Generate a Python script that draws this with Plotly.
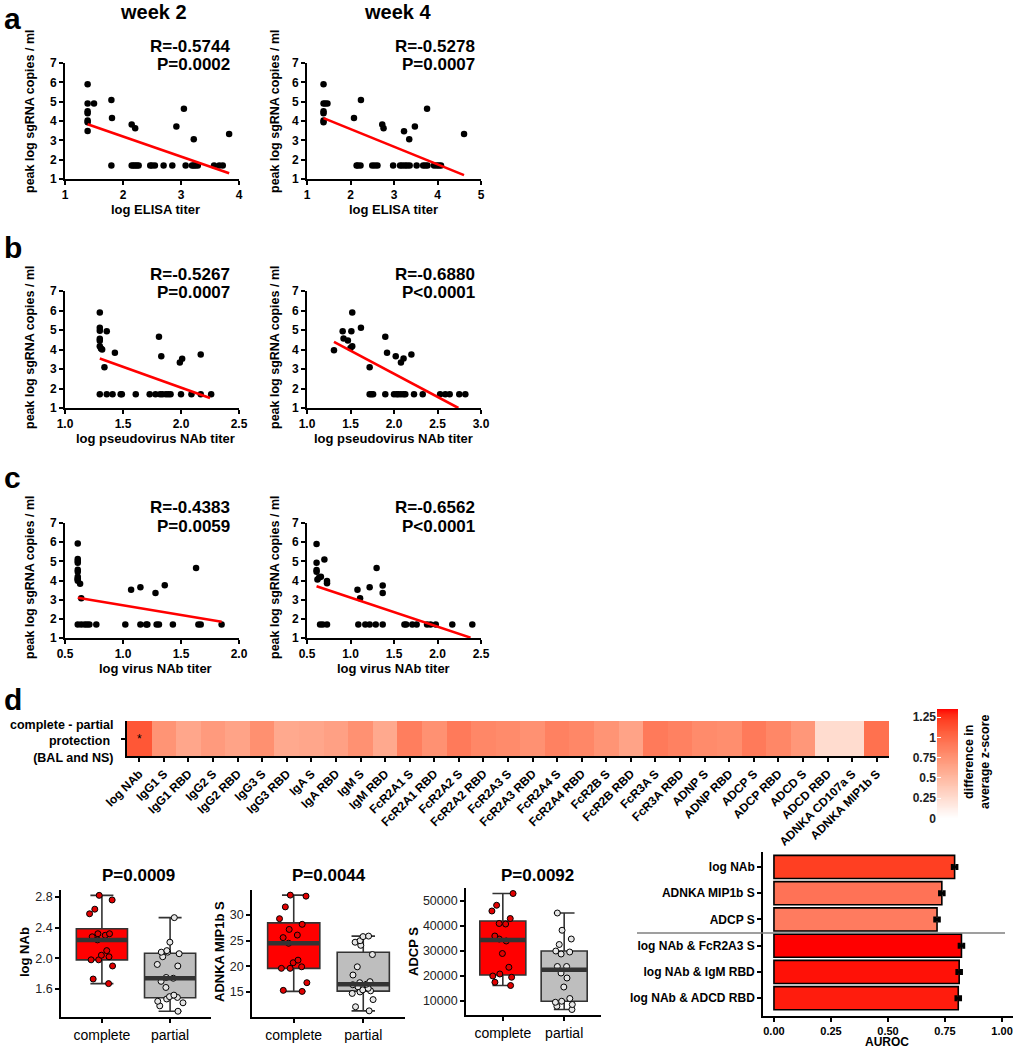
import numpy as np
import plotly.graph_objects as go

W, H = 1013, 1050
FONT = "Liberation Sans, Arial, sans-serif"

def dx(a, b): return [a / W, b / W]
def dy(top, bottom): return [1 - bottom / H, 1 - top / H]
def px(x): return x / W
def py(y): return 1 - y / H

# ------------------------------------------------------------------ data
LOD = 1.70  # lower limit of sgRNA detection (log)

# a: log ELISA titer, week 2
a2_x_hi = [1.39, 1.39, 1.50, 1.39, 1.39, 1.39, 1.39, 1.39, 1.80, 1.81, 2.15, 2.21, 2.92, 3.05, 3.22, 3.83]
a2_y_hi = [5.90, 4.91, 4.91, 4.51, 4.40, 4.02, 3.93, 3.48, 5.08, 4.16, 3.82, 3.63, 3.71, 4.63, 3.06, 3.33]
a2_x_lo = [1.80, 2.15, 2.18, 2.21, 2.24, 2.27, 2.47, 2.50, 2.55, 2.70, 2.85, 3.08, 3.19, 3.22, 3.25, 3.29, 3.57, 3.66, 3.72]
a2_fit_x = [1.39, 3.83]
a2_fit_y = [3.83, 1.30]
a2_stats = ["R=-0.5744", "P=0.0002"]

# a: log ELISA titer, week 4
a4_x_hi = [1.38, 1.38, 1.42, 1.47, 1.38, 1.38, 1.38, 1.38, 2.08, 2.24, 2.73, 2.76, 3.23, 3.35, 3.48, 3.76, 4.61]
a4_y_hi = [5.90, 4.91, 4.91, 4.91, 4.51, 4.40, 4.02, 3.93, 4.16, 5.08, 3.82, 3.63, 3.47, 3.06, 3.71, 4.63, 3.33]
a4_x_lo = [2.14, 2.17, 2.23, 2.50, 2.56, 2.62, 2.98, 3.14, 3.19, 3.25, 3.30, 3.36, 3.52, 3.67, 3.72, 3.77, 3.92, 3.98, 4.03, 4.08]
a4_fit_x = [1.38, 4.61]
a4_fit_y = [4.15, 1.20]
a4_stats = ["R=-0.5278", "P=0.0007"]

# b: log pseudovirus NAb titer, week 2
b2_x_hi = [1.30, 1.30, 1.30, 1.30, 1.30, 1.30, 1.31, 1.32, 1.36, 1.43, 1.34, 1.81, 1.83, 1.99, 2.01, 2.17]
b2_y_hi = [5.90, 5.11, 4.96, 4.55, 4.45, 4.17, 4.05, 4.00, 4.94, 3.83, 3.09, 4.65, 3.66, 3.33, 3.52, 3.74]
b2_x_lo = [1.30, 1.36, 1.41, 1.48, 1.49, 1.61, 1.73, 1.78, 1.82, 1.84, 1.87, 1.89, 1.91, 2.00, 2.09, 2.17, 2.26]
b2_fit_x = [1.30, 2.25]
b2_fit_y = [3.54, 1.51]
b2_stats = ["R=-0.5267", "P=0.0007"]

# b: week 4
b4_x_hi = [1.31, 1.41, 1.42, 1.47, 1.51, 1.52, 1.50, 1.52, 1.62, 1.72, 1.90, 1.92, 2.02, 2.08, 2.11, 2.20]
b4_y_hi = [3.96, 4.94, 4.56, 4.46, 4.94, 5.90, 4.08, 4.17, 5.11, 3.09, 4.65, 3.83, 3.66, 3.33, 3.54, 3.74]
b4_x_lo = [1.72, 1.74, 1.76, 1.90, 2.00, 2.03, 2.05, 2.08, 2.11, 2.13, 2.23, 2.33, 2.53, 2.59, 2.64, 2.75, 2.82]
b4_fit_x = [1.31, 2.74]
b4_fit_y = [4.39, 1.00]
b4_stats = ["R=-0.6880", "P<0.0001"]

# c: log virus NAb titer, week 2
c2_x_hi = [0.61, 0.61, 0.61, 0.61, 0.61, 0.61, 0.61, 0.61, 0.61, 0.61, 0.63, 0.64, 1.07, 1.15, 1.28, 1.36, 1.63]
c2_y_hi = [5.93, 5.12, 5.02, 4.92, 4.56, 4.46, 4.20, 4.10, 4.05, 3.99, 3.83, 3.08, 3.52, 3.65, 3.35, 3.75, 4.65]
c2_x_lo = [0.61, 0.64, 0.67, 0.69, 0.71, 0.77, 1.02, 1.15, 1.20, 1.21, 1.29, 1.31, 1.43, 1.65, 1.67, 1.85]
c2_fit_x = [0.61, 1.85]
c2_fit_y = [3.10, 1.85]
c2_stats = ["R=-0.4383", "P=0.0059"]

# c: week 4
c4_x_hi = [0.61, 0.61, 0.61, 0.61, 0.62, 0.64, 0.66, 0.70, 0.73, 0.73, 1.08, 1.11, 1.22, 1.30, 1.37, 1.37]
c4_y_hi = [5.90, 4.92, 4.55, 4.45, 4.05, 4.15, 4.20, 5.10, 3.97, 3.85, 3.52, 3.08, 3.65, 4.65, 3.74, 3.35]
c4_x_lo = [0.65, 0.68, 0.73, 1.09, 1.17, 1.22, 1.29, 1.37, 1.62, 1.64, 1.71, 1.76, 1.88, 1.92, 1.98, 2.17, 2.40]
c4_fit_x = [0.61, 2.38]
c4_fit_y = [3.70, 1.02]
c4_stats = ["R=-0.6562", "P<0.0001"]

# d: heatmap
features = ["log NAb", "IgG1 S", "IgG1 RBD", "IgG2 S", "IgG2 RBD", "IgG3 S", "IgG3 RBD",
            "IgA S", "IgA RBD", "IgM S", "IgM RBD", "FcR2A1 S", "FcR2A1 RBD", "FcR2A2 S",
            "FcR2A2 RBD", "FcR2A3 S", "FcR2A3 RBD", "FcR2A4 S", "FcR2A4 RBD", "FcR2B S",
            "FcR2B RBD", "FcR3A S", "FcR3A RBD", "ADNP S", "ADNP RBD", "ADCP S", "ADCP RBD",
            "ADCD S", "ADCD RBD", "ADNKA CD107a S", "ADNKA MIP1b S"]
zdiff = [1.10, 0.74, 0.62, 0.70, 0.64, 0.77, 0.60, 0.62, 0.66, 0.76, 0.60, 0.88, 0.76, 0.90,
         0.82, 0.80, 0.76, 0.86, 0.82, 0.74, 0.64, 0.90, 0.86, 0.80, 0.78, 0.90, 0.82,
         0.72, 0.25, 0.25, 0.96]
heat_row = "complete - partial<br>protection <br>(BAL and NS)"
cb_ticks = [0, 0.25, 0.5, 0.75, 1, 1.25]
cb_ticktext = ["0", "0.25", "0.5", "0.75", "1", "1.25"]

# d: box plots
groups = ["complete", "partial"]
nab_complete = [1.67, 1.73, 1.90, 1.98, 1.98, 2.02, 2.04, 2.10, 2.24, 2.28, 2.30, 2.32, 2.32, 2.58, 2.64, 2.76, 2.82]
nab_partial = [1.31, 1.38, 1.42, 1.44, 1.47, 1.49, 1.50, 1.52, 1.62, 1.70, 1.74, 1.75, 1.90, 1.92, 2.02, 2.06, 2.08, 2.08, 2.10, 2.21, 2.53]
mip_complete = [15.1, 15.3, 16.8, 19.6, 19.6, 19.9, 20.7, 21.2, 24.5, 25.6, 26.1, 27.2, 28.2, 29.3, 31.6, 33.7, 33.9]
mip_partial = [11.3, 12.1, 13.5, 14.7, 15.0, 15.2, 15.4, 15.7, 16.0, 16.4, 16.5, 16.8, 17.0, 18.3, 19.9, 22.3, 24.1, 24.7, 25.0, 25.8, 25.9]
adcp_complete = [16200, 17500, 19500, 20000, 20800, 23500, 29000, 34000, 34800, 36000, 40800, 41000, 43000, 46000, 48300, 53000]
adcp_partial = [6600, 7900, 8600, 9500, 9900, 11000, 15600, 19200, 21200, 23800, 23800, 28800, 29600, 30000, 32600, 34800, 38300, 45200]
box_titles = ["P=0.0009", "P=0.0044", "P=0.0092"]
box_ylabels = ["log NAb", "ADNKA MIP1b S", "ADCP S"]

# d: AUROC bars
bar_labels = ["log NAb", "ADNKA MIP1b S", "ADCP S", "log NAb & FcR2A3 S", "log NAb & IgM RBD", "log NAb & ADCD RBD"]
auroc = [0.792, 0.736, 0.715, 0.822, 0.812, 0.808]
auroc_err = [0.010, 0.010, 0.010, 0.010, 0.010, 0.010]
bar_colors = ["#FF3F22", "#FF7256", "#FF7B5F", "#FF0000", "#FF1107", "#FF1C0D"]

# ------------------------------------------------------------------ colour scale (white -> red, Lab)
def _lin(c):
    c = c / 255.0
    return np.where(c <= 0.04045, c / 12.92, ((c + 0.055) / 1.055) ** 2.4)

def _srgb(c):
    c = np.where(c <= 0.0031308, 12.92 * c, 1.055 * np.clip(c, 0, None) ** (1 / 2.4) - 0.055)
    return np.clip(np.round(c * 255), 0, 255).astype(int)

M = np.array([[0.4124, 0.3576, 0.1805], [0.2126, 0.7152, 0.0722], [0.0193, 0.1192, 0.9505]])
WP = np.array([0.95047, 1.0, 1.08883])

def _to_lab(rgb):
    xyz = M @ _lin(np.array(rgb, float)) / WP
    f = np.where(xyz > 216 / 24389, np.cbrt(xyz), (24389 / 27 * xyz + 16) / 116)
    return np.array([116 * f[1] - 16, 500 * (f[0] - f[1]), 200 * (f[1] - f[2])])

def _from_lab(lab):
    fy = (lab[0] + 16) / 116
    fx = fy + lab[1] / 500
    fz = fy - lab[2] / 200
    f = np.array([fx, fy, fz])
    xyz = np.where(f ** 3 > 216 / 24389, f ** 3, (116 * f - 16) / (24389 / 27)) * WP
    return _srgb(np.linalg.solve(M, xyz))

lab0, lab1 = _to_lab([255, 255, 255]), _to_lab([255, 0, 0])
cscale = []
for t in np.linspace(0, 1, 21):
    r, g, b = _from_lab(lab0 + t * (lab1 - lab0))
    cscale.append([float(t), f"rgb({r},{g},{b})"])
ZMAX = 1.35

# ------------------------------------------------------------------ figure
fig = go.Figure()
layout = dict(width=W, height=H, margin=dict(l=0, r=0, t=0, b=0, autoexpand=False), autosize=False,
              paper_bgcolor="white", plot_bgcolor="white", showlegend=False,
              font=dict(family=FONT, color="black"))
annotations = []
shapes = []

def ax_name(i, kind):
    return f"{kind}axis" if i == 1 else f"{kind}axis{i}"

def ref(i, kind):
    return kind if i == 1 else f"{kind}{i}"

AX_COMMON = dict(showgrid=False, zeroline=False, showline=True, linecolor="black", linewidth=1.6,
                 ticks="outside", ticklen=4, tickwidth=1.5, tickcolor="black", automargin=False,
                 ticklabeloverflow="allow")

def ann(text, x, y, size, bold=True, xanchor="center", yanchor="middle", angle=0, align="center"):
    annotations.append(dict(text=text, x=px(x), y=py(y), xref="paper", yref="paper",
                            showarrow=False, xanchor=xanchor, yanchor=yanchor, textangle=angle,
                            align=align, font=dict(family=FONT, size=size, color="black",
                                                   weight="bold" if bold else "normal")))

# scatter panels
scat = [
    (a2_x_hi, a2_y_hi, a2_x_lo, a2_fit_x, a2_fit_y, a2_stats, [1, 4], 1, 63, 179, "L"),
    (a4_x_hi, a4_y_hi, a4_x_lo, a4_fit_x, a4_fit_y, a4_stats, [1, 5], 1, 63, 179, "R"),
    (b2_x_hi, b2_y_hi, b2_x_lo, b2_fit_x, b2_fit_y, b2_stats, [1, 2.5], 0.5, 291, 408, "L"),
    (b4_x_hi, b4_y_hi, b4_x_lo, b4_fit_x, b4_fit_y, b4_stats, [1, 3], 0.5, 291, 408, "R"),
    (c2_x_hi, c2_y_hi, c2_x_lo, c2_fit_x, c2_fit_y, c2_stats, [0.5, 2.0], 0.5, 523, 638, "L"),
    (c4_x_hi, c4_y_hi, c4_x_lo, c4_fit_x, c4_fit_y, c4_stats, [0.5, 2.5], 0.5, 523, 638, "R"),
]
xtitles = ["log ELISA titer", "log pseudovirus NAb titer", "log virus NAb titer"]
for k, (xh, yh, xl, fx, fy, st, xr, dt, top, bot, side) in enumerate(scat):
    i = k + 1
    x0, x1 = (65, 239) if side == "L" else (307, 481)
    xs = list(xh) + list(xl)
    ys = list(yh) + [LOD] * len(xl)
    fig.add_trace(go.Scatter(x=xs, y=ys, mode="markers", cliponaxis=False,
                             marker=dict(color="black", size=6.5),
                             xaxis=ref(i, "x"), yaxis=ref(i, "y")))
    fig.add_trace(go.Scatter(x=fx, y=fy, mode="lines", line=dict(color="#FF0000", width=2.6),
                             xaxis=ref(i, "x"), yaxis=ref(i, "y")))
    layout[ax_name(i, "x")] = dict(AX_COMMON, domain=dx(x0, x1), range=xr, dtick=dt,
                                   tickformat=".1f" if dt == 0.5 else "d",
                                   anchor=ref(i, "y"),
                                   tickfont=dict(size=12, weight="bold", family=FONT))
    layout[ax_name(i, "y")] = dict(AX_COMMON, domain=dy(top, bot), range=[1, 7], dtick=1,
                                   anchor=ref(i, "x"),
                                   tickfont=dict(size=12, weight="bold", family=FONT))
    rx = 232 if side == "L" else 477
    off = {63: 0, 291: 228, 523: 460}[top]
    ann(st[0], rx, 46 + off + (1.5 if top == 523 else 0), 17, xanchor="right")
    ann(st[1], rx, 64 + off + (2 if top == 523 else 0), 17, xanchor="right")
    ycen = {63: 112, 291: 348, 523: 578}[top]
    ann("peak log sgRNA copies / ml", 30 if side == "L" else 275, ycen, 12.5, angle=-90)
    xt = {63: 210, 291: 438, 523: 668}[top]
    ann(xtitles[k // 2], 155 if side == "L" else 393, xt, 13)

ann("week 2", 153, 12, 20)
ann("week 4", 397, 12, 20)
for letter, yy in [("a", 19), ("b", 248), ("c", 477), ("d", 699)]:
    ann(letter, 2, yy, 30, xanchor="left")

# heatmap (axis 7)
fig.add_trace(go.Heatmap(z=[zdiff], x=features, y=["row"], colorscale=cscale, zmin=0, zmax=ZMAX,
                         showscale=False, xaxis="x7", yaxis="y7"))
layout["xaxis7"] = dict(AX_COMMON, domain=dx(127, 889), anchor="y7", tickangle=-45, linewidth=2.2,
                        tickfont=dict(size=12, weight="bold", family=FONT), type="category")
layout["yaxis7"] = dict(AX_COMMON, domain=dy(721, 756), anchor="x7", showticklabels=False,
                        linewidth=2.2, type="category")
annotations.append(dict(text="*", x="log NAb", y="row", xref="x7", yref="y7", showarrow=False,
                        font=dict(size=12, color="black")))
ann(heat_row, 116, 741, 12.5, xanchor="right", align="right")

# colour bar as a thin heatmap (axis 8)
grad = np.linspace(0, ZMAX, 120)
fig.add_trace(go.Heatmap(z=[[v] for v in grad], x=[0], y=grad, colorscale=cscale, zmin=0, zmax=ZMAX,
                         showscale=False, xaxis="x8", yaxis="y8"))
layout["xaxis8"] = dict(domain=dx(937, 958), anchor="y8", visible=False, range=[-0.5, 0.5],
                        automargin=False)
layout["yaxis8"] = dict(domain=dy(709, 820), anchor="x8", range=[-0.02, ZMAX], showgrid=False,
                        zeroline=False, showline=False, ticks="inside", tickcolor="white",
                        ticklen=4, tickwidth=1.2, tickvals=cb_ticks, ticktext=cb_ticktext,
                        automargin=False,
                        tickfont=dict(size=12, weight="bold", family=FONT, color="#222"))
ann("difference in<br>average z-score", 977, 762, 12.5, angle=-90)

# box plots (axes 9-11)
box_sets = [
    (nab_complete, nab_partial, 61, 211, 890, 1017, [1.235, 2.89], [1.6, 2.0, 2.4, 2.8], ".1f", 138, 24),
    (mip_complete, mip_partial, 252, 405, 890, 1017, [10.1, 34.9], [15, 20, 25, 30], "d", 329, 219),
    (adcp_complete, adcp_partial, 466, 601, 888, 1015, [4400, 55200], [10000, 20000, 30000, 40000, 50000], "d", 537, 413),
]
for k, (vc, vp, x0, x1, top, bot, yr, tv, tf, tx, ytx) in enumerate(box_sets):
    i = 9 + k
    for gi, (vals, fill, pfill) in enumerate([(vc, "#FF0000", "#E10000"), (vp, "#BEBEBE", "#E6E6E6")]):
        fig.add_trace(go.Box(y=vals, x=[gi] * len(vals), width=0.75, fillcolor=fill,
                             line=dict(color="#333333", width=1.6), whiskerwidth=0.45,
                             boxpoints="all", jitter=0.65, pointpos=0, quartilemethod="linear",
                             marker=dict(color=pfill, size=6, line=dict(color="black", width=1)),
                             xaxis=ref(i, "x"), yaxis=ref(i, "y")))
        med = float(np.median(vals))
        fig.add_trace(go.Scatter(x=[gi - 0.375, gi + 0.375], y=[med, med], mode="lines",
                                 line=dict(color="#333333", width=4.5),
                                 xaxis=ref(i, "x"), yaxis=ref(i, "y")))
    layout[ax_name(i, "x")] = dict(AX_COMMON, domain=dx(x0, x1), range=[-0.6, 1.6], anchor=ref(i, "y"),
                                   tickvals=[0, 1], ticktext=groups,
                                   tickfont=dict(size=14, family=FONT, color="black"))
    layout[ax_name(i, "y")] = dict(AX_COMMON, domain=dy(top, bot), range=yr, anchor=ref(i, "x"),
                                   tickvals=tv, tickformat=tf,
                                   tickfont=dict(size=12.5, family=FONT, color="#222"))
    ann(box_titles[k], tx, 875, 17)
    ann(box_ylabels[k], ytx, 952, 13, angle=-90)
layout["boxmode"] = "overlay"

# AUROC bars (axis 12)
fig.add_trace(go.Bar(x=auroc, y=bar_labels, orientation="h", width=0.88,
                     marker=dict(color=bar_colors, line=dict(color="black", width=1.6)),
                     error_x=dict(type="data", array=auroc_err, color="black", thickness=3, width=3),
                     xaxis="x12", yaxis="y12"))
layout["xaxis12"] = dict(AX_COMMON, domain=dx(763, 1013), range=[-0.048, 1.048], anchor="y12",
                         tickvals=[0, 0.25, 0.5, 0.75, 1.0], tickformat=".2f",
                         tickfont=dict(size=11, weight="bold", family=FONT))
layout["yaxis12"] = dict(AX_COMMON, domain=dy(852, 1016), anchor="x12", type="category",
                         categoryorder="array", categoryarray=bar_labels, range=[5.68, -0.57],
                         tickfont=dict(size=12, weight="bold", family=FONT))
shapes.append(dict(type="line", xref="paper", yref="paper", x0=px(637), x1=px(1005),
                   y0=py(933), y1=py(933), line=dict(color="#7F7F7F", width=1.5)))
ann("AUROC", 887, 1042, 12)

layout["annotations"] = annotations
layout["shapes"] = shapes
fig.update_layout(**layout)
fig.write_html("out.html", config={"displayModeBar": False},
               post_script="document.body.style.margin='0';document.body.style.overflow='hidden';")
